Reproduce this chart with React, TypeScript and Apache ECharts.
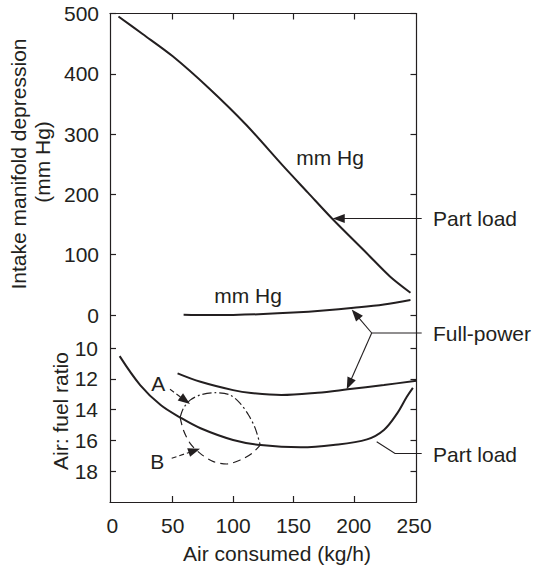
import React, { useEffect, useRef } from "react";
import * as echarts from "echarts";

const FONT = "'Liberation Sans', Arial, Helvetica, sans-serif";
const INK = "#231f20";

// Tick values
const xLabelValues = [0, 50, 100, 150, 200, 250];
const xInnerTicks = [50, 100, 150, 200];
const afrTicks = [10, 12, 14, 16, 18];

// Intake manifold depression (mm Hg) – part load
const partLoadHgX = [5, 25, 50, 80, 111, 142, 162, 182, 211, 230, 247];
const partLoadHg = [495, 466, 429, 376, 315, 246, 203, 160, 102, 64, 37];

// Intake manifold depression (mm Hg) – full power
const fullPowerHgX = [59, 80, 100, 125, 150, 175, 200, 225, 247];
const fullPowerHg = [0.5, 0, 0.2, 1.5, 4, 7.5, 12, 17.5, 25];

// Air:fuel ratio – full power
const fullPowerAfrX = [54, 73, 100, 115, 140, 170, 195, 225, 252];
const fullPowerAfr = [11.64, 12.19, 12.73, 12.92, 13.05, 12.9, 12.68, 12.4, 12.12];

// Air:fuel ratio – part load
const partLoadAfrX = [6, 23, 40, 56, 73, 100, 123, 156, 183, 211, 225, 236, 244, 249];
const partLoadAfr = [10.52, 12.4, 13.7, 14.5, 15.21, 15.97, 16.3, 16.45, 16.3, 15.93, 15.32, 14.24, 13.16, 12.58];

// Loop A (dash-dot)
const loopAX = [56.1, 58.8, 64.4, 72.7, 85.1, 97.6, 105.9, 112.8, 118.3, 122.5];
const loopA = [14.5, 13.92, 13.38, 13.05, 12.9, 13.05, 13.59, 14.35, 15.2, 16.3];

// Loop B (dashed)
const loopBX = [56.1, 58.8, 64.4, 72.7, 83.7, 94.9, 105.9, 115.6, 122.5];
const loopB = [14.5, 15.32, 16.19, 16.84, 17.38, 17.53, 17.27, 16.84, 16.3];

const pairs = (xs: number[], ys: number[]) => xs.map((x, i) => [x, ys[i]]);

export default function App() {
  const ref = useRef<HTMLDivElement>(null);

  useEffect(() => {
    if (!ref.current) return;
    const chart = echarts.init(ref.current, undefined, { renderer: "svg" });

    const axisLine = { show: true, onZero: false, lineStyle: { color: INK, width: 1.2 } };
    const tickStyle = { color: INK, width: 1.2 };
    const labelStyle = { fontSize: 21, fontFamily: FONT, color: INK };

    const lineSeries = (name: string, xs: number[], ys: number[], grid: number, extra: any = {}) => ({
      name,
      type: "line",
      xAxisIndex: grid === 0 ? 0 : 2,
      yAxisIndex: grid === 0 ? 0 : 2,
      data: pairs(xs, ys),
      showSymbol: false,
      symbol: "none",
      smooth: extra.smooth ?? 0.35,
      silent: true,
      lineStyle: { color: INK, width: 2, ...(extra.lineStyle || {}) },
    });

    chart.setOption({
      animation: false,
      backgroundColor: "#ffffff",
      grid: [
        { left: 110, top: 13.5, width: 306.5, height: 301.5 },
        { left: 110, top: 315, width: 306.5, height: 187 },
      ],
      xAxis: [
        {
          type: "value", gridIndex: 0, min: -2, max: 252, position: "bottom",
          axisLine: { show: false }, axisTick: { show: false }, axisLabel: { show: false }, splitLine: { show: false },
        },
        {
          type: "value", gridIndex: 0, min: -2, max: 252, position: "top",
          axisLine, axisTick: { show: true, inside: true, length: 6, customValues: xInnerTicks, lineStyle: tickStyle },
          axisLabel: { show: false }, splitLine: { show: false },
        },
        {
          type: "value", gridIndex: 1, min: -2, max: 252, position: "bottom",
          axisLine, axisTick: { show: true, inside: true, length: 6, customValues: xInnerTicks, lineStyle: tickStyle },
          axisLabel: { ...labelStyle, customValues: xLabelValues, margin: 13 }, splitLine: { show: false },
        },
      ],
      yAxis: [
        {
          type: "value", gridIndex: 0, min: 0, max: 500, interval: 100, position: "left",
          axisLine, axisTick: { show: true, inside: true, length: 6, lineStyle: tickStyle },
          axisLabel: { ...labelStyle, margin: 11 }, splitLine: { show: false },
        },
        {
          type: "value", gridIndex: 0, min: 0, max: 500, interval: 100, position: "right",
          axisLine, axisTick: { show: true, inside: true, length: 6, lineStyle: tickStyle },
          axisLabel: { show: false }, splitLine: { show: false },
        },
        {
          type: "value", gridIndex: 1, min: 7.85, max: 20, inverse: true, position: "left",
          axisLine, axisTick: { show: true, inside: true, length: 6, customValues: afrTicks, lineStyle: tickStyle },
          axisLabel: { ...labelStyle, customValues: afrTicks, margin: 12 }, splitLine: { show: false },
        },
        {
          type: "value", gridIndex: 1, min: 7.85, max: 20, inverse: true, position: "right",
          axisLine, axisTick: { show: true, inside: true, length: 6, customValues: afrTicks, lineStyle: tickStyle },
          axisLabel: { show: false }, splitLine: { show: false },
        },
      ],
      series: [
        lineSeries("Part load (mm Hg)", partLoadHgX, partLoadHg, 0, { smooth: 0.3 }),
        lineSeries("Full-power (mm Hg)", fullPowerHgX, fullPowerHg, 0),
        lineSeries("Full-power A/F", fullPowerAfrX, fullPowerAfr, 1),
        lineSeries("Part load A/F", partLoadAfrX, partLoadAfr, 1),
        lineSeries("A", loopAX, loopA, 1, { smooth: 0.3, lineStyle: { width: 1.2, type: [9, 3, 2, 3] } }),
        lineSeries("B", loopBX, loopB, 1, { smooth: 0.3, lineStyle: { width: 1.2, type: [8, 5] } }),
      ],
    });

    const top = (pt: number[]) => chart.convertToPixel({ xAxisIndex: 0, yAxisIndex: 0 }, pt) as number[];
    const low = (pt: number[]) => chart.convertToPixel({ xAxisIndex: 2, yAxisIndex: 2 }, pt) as number[];

    const text = (t: string, x: number, y: number, align = "center", rotation = 0) => ({
      type: "text",
      x, y, rotation,
      silent: true,
      style: {
        text: t, fill: INK, fontSize: 21, fontFamily: FONT,
        textAlign: align, textVerticalAlign: "middle", align, verticalAlign: "middle",
      },
    });

    const arrow = (s: number[], p: number[], dashed = false) => {
      const dx = p[0] - s[0];
      const dy = p[1] - s[1];
      const len = Math.hypot(dx, dy);
      const ux = dx / len;
      const uy = dy / len;
      const L = 12;
      const W = 4.5;
      const bx = p[0] - ux * L;
      const by = p[1] - uy * L;
      return [
        {
          type: "line", silent: true,
          shape: { x1: s[0], y1: s[1], x2: bx + ux * 2, y2: by + uy * 2 },
          style: { stroke: INK, lineWidth: 1.1, lineDash: dashed ? [5, 3] : null },
        },
        {
          type: "polygon", silent: true,
          shape: { points: [[p[0], p[1]], [bx - uy * W, by + ux * W], [bx + uy * W, by - ux * W]] },
          style: { fill: INK },
        },
      ];
    };

    const partTip = top([182.6, 160]);
    const fpUpTip = top([198.3, 9.1]);
    const fpLowTip = low([194.2, 12.68]);
    const aTip = low([64.3, 13.64]);
    const bTip = low([72.6, 16.54]);
    const junction = [371.7, 333];

    const elements: any[] = [
      text("Intake manifold depression", 18, 164, "center", Math.PI / 2),
      text("(mm Hg)", 42, 162, "center", Math.PI / 2),
      text("Air: fuel ratio", 60, 411, "center", Math.PI / 2),
      text("Air consumed (kg/h)", 277, 553),
      text("mm Hg", 330, 157),
      text("mm Hg", 248, 295),
      text("A", 158.3, 383.3),
      text("B", 157.3, 461.7),
      text("Part load", 433, 218, "left"),
      text("Full-power", 433, 333, "left"),
      text("Part load", 433, 454, "left"),
      ...arrow([421.7, partTip[1]], partTip),
      {
        type: "line", silent: true,
        shape: { x1: 421.7, y1: junction[1], x2: junction[0], y2: junction[1] },
        style: { stroke: INK, lineWidth: 1.1 },
      },
      ...arrow(junction, fpUpTip),
      ...arrow(junction, fpLowTip),
      {
        type: "polyline", silent: true,
        shape: { points: [[421.7, 453.5], [395, 453.5], [376.7, 441.7]] },
        style: { stroke: INK, lineWidth: 1.1, fill: null },
      },
      ...arrow([170, 389.3], aTip, true),
      ...arrow([171.7, 458.3], bTip, true),
    ];

    chart.setOption({ graphic: { elements } });

    return () => chart.dispose();
  }, []);

  return (
    <div
      ref={ref}
      style={{ position: "fixed", left: 0, top: 0, width: 536, height: 565, background: "#fff" }}
    />
  );
}
